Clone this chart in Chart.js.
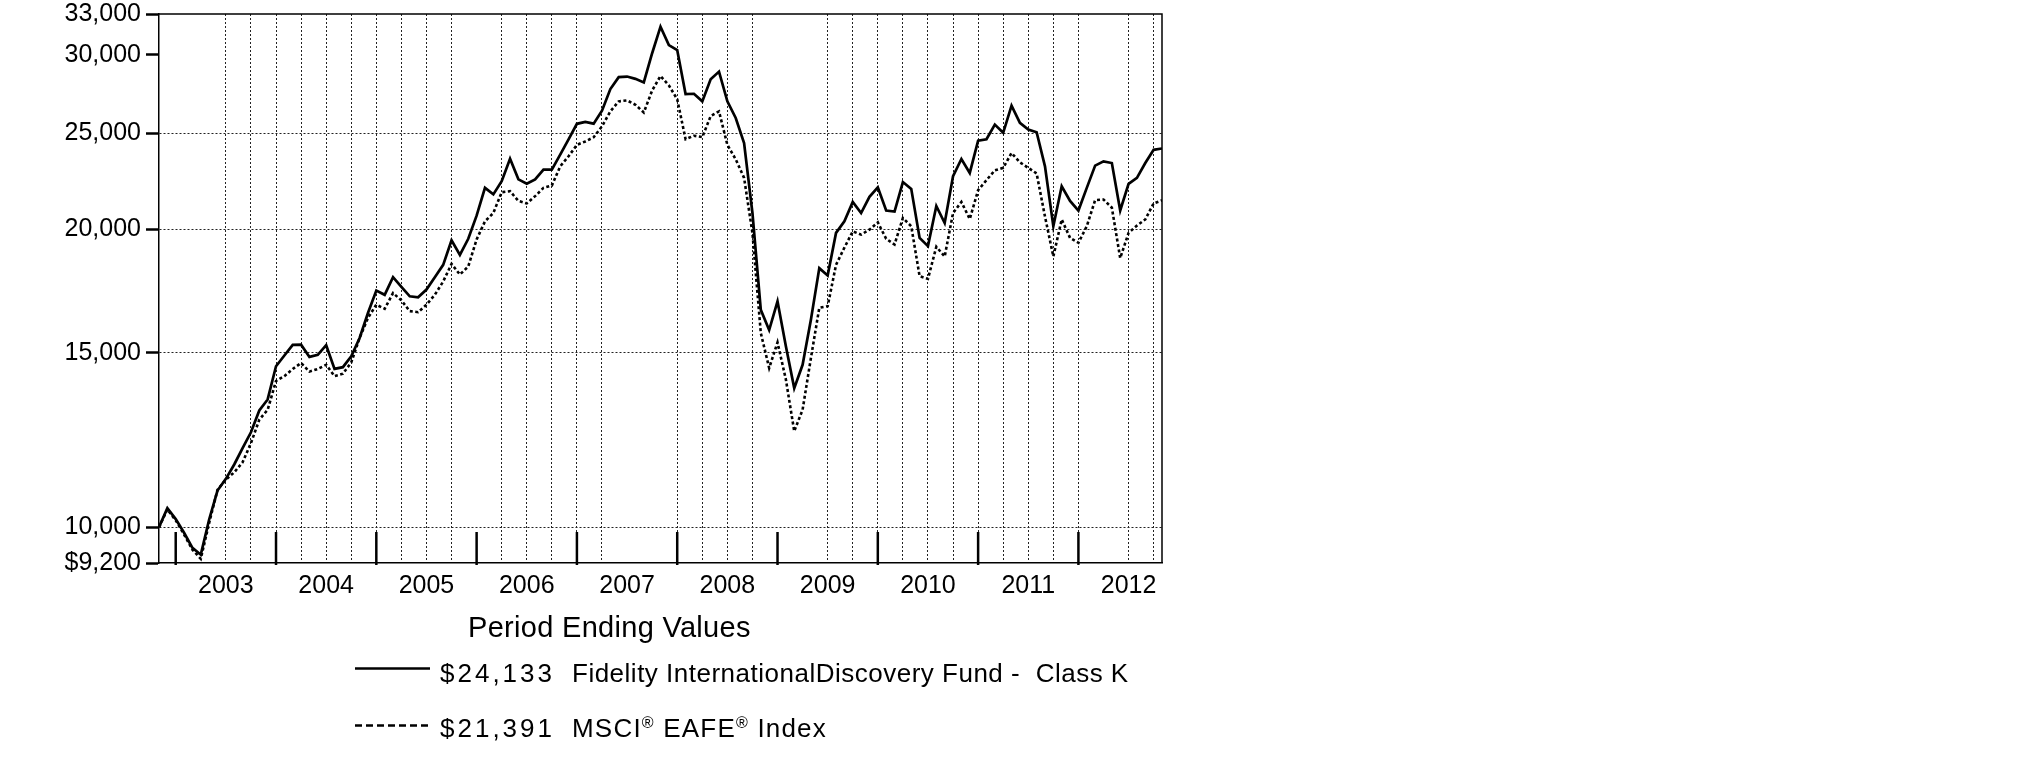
<!DOCTYPE html>
<html>
<head>
<meta charset="utf-8">
<title>Fidelity International Discovery Fund - Class K vs MSCI EAFE</title>
<script src="https://cdn.jsdelivr.net/npm/chart.js@4.4.1/dist/chart.umd.min.js"></script>
<style>
  html, body { margin: 0; padding: 0; background: #fff; }
  #wrap { position: relative; width: 2025px; height: 773px; font-family: "Liberation Sans", Arial, sans-serif; color: #000; }
  #chart { position: absolute; left: 0; top: 0; }
  .txt { position: absolute; white-space: pre; line-height: 1; }
  .title { font-size: 29px; letter-spacing: 0.3px; }
  .val { font-size: 26px; letter-spacing: 3px; }
  .name { font-size: 26px; letter-spacing: 0.5px; }
  .name.r1 { letter-spacing: 1.2px; }
  .name sup { font-size: 16px; vertical-align: 9px; line-height: 0; }
  #swatches { position: absolute; left: 0; top: 0; }
</style>
</head>
<body>
<div id="wrap">
  <canvas id="chart" width="2025" height="773"></canvas>
  <svg id="swatches" width="2025" height="773"></svg>
  <div id="legend"></div>
</div>
<script>
// month 0 = Oct 2002 ... month 120 = Oct 2012 (monthly period ends)
const fundValues = [
  10000, 10450, 10190, 9870, 9530, 9380, 10180, 10890, 11190, 11570,
  12020, 12470, 13120, 13460, 14540, 14910, 15280, 15290, 14860, 14930,
  15270, 14450, 14510, 14880, 15530, 16460, 17340, 17170, 17890, 17490,
  17110, 17070, 17380, 17890, 18410, 19490, 18840, 19560, 20640, 22020,
  21690, 22370, 23560, 22460, 22230, 22460, 22980, 22980, 23790, 24650,
  25560, 25670, 25570, 26350, 27710, 28490, 28530, 28380, 28140, 30120,
  32040, 30700, 30350, 27390, 27410, 26930, 28350, 28860, 26930, 25910,
  24440, 20770, 16580, 15820, 16910, 15230, 13820, 14590, 16210, 18270,
  17960, 19830, 20370, 21310, 20770, 21570, 22050, 20890, 20840, 22320,
  21970, 19600, 19230, 21110, 20290, 22630, 23550, 22800, 24580, 24660,
  25510, 25030, 26660, 25620, 25220, 25060, 23150, 20140, 22100, 21360,
  20890, 22020, 23190, 23420, 23330, 20890, 22230, 22540, 23330, 24060,
  24133
];
const indexValues = [
  10000, 10420, 10160, 9830, 9490, 9290, 10100, 10910, 11170, 11360,
  11630, 12160, 12840, 13140, 14050, 14210, 14450, 14650, 14360, 14450,
  14590, 14210, 14290, 14670, 15530, 16270, 16780, 16620, 17240, 16950,
  16530, 16490, 16780, 17170, 17710, 18450, 18000, 18340, 19530, 20370,
  20770, 21800, 21850, 21360, 21240, 21600, 22020, 22140, 23150, 23700,
  24340, 24530, 24770, 25410, 26310, 26930, 26990, 26720, 26240, 27620,
  28570, 27950, 27060, 24660, 24860, 24780, 26020, 26310, 24340, 23530,
  22540, 19830, 15710, 14480, 15370, 14100, 12500, 13140, 14830, 16660,
  16720, 18410, 19160, 19900, 19750, 19980, 20320, 19560, 19300, 20530,
  20140, 17930, 17820, 19200, 18770, 20770, 21310, 20480, 21900, 22420,
  22940, 23070, 23880, 23370, 23070, 22770, 20600, 18770, 20460, 19600,
  19380, 20140, 21400, 21430, 21030, 18700, 19830, 20170, 20460, 21240,
  21391
];
const seriesNames = [
  "Fidelity InternationalDiscovery Fund -  Class K",
  "MSCI<sup>®</sup> EAFE<sup>®</sup> Index"
];

const yTickValues = [9200, 10000, 15000, 20000, 25000, 30000, 33000];
const yTickLabels = ["$9,200", "10,000", "15,000", "20,000", "25,000", "30,000", "33,000"];
const yGridValues = [10000, 15000, 20000, 25000];

const yearLabels = ["2003", "2004", "2005", "2006", "2007", "2008", "2009", "2010", "2011", "2012"];
const yearLabelMonths = [8, 20, 32, 44, 56, 68, 80, 92, 104, 116];
const yearEndMonths = [2, 14, 26, 38, 50, 62, 74, 86, 98, 110];
// quarter ends that show no dotted grid line in the original
const hiddenGridMonths = [2, 5, 38, 56, 59, 74, 77, 113];

const quarterMonths = [];
for (let m = 2; m < fundValues.length; m += 3) quarterMonths.push(m);

const toPoints = (arr) => arr.map((v, i) => ({ x: i, y: v }));

const tickFont = { family: "'Liberation Sans', Arial, sans-serif", size: 25 };

// Frame + year separator ticks -------------------- { plugin }
const frameAndYears = {
  id: "frameAndYears",
  afterDraw(chart) {
    const { ctx, chartArea } = chart;
    const xs = chart.scales.x;
    ctx.save();
    ctx.strokeStyle = "#000";
    ctx.lineWidth = 1.5;
    ctx.beginPath();
    ctx.moveTo(chartArea.left, chartArea.top);
    ctx.lineTo(chartArea.right, chartArea.top);
    ctx.lineTo(chartArea.right, chartArea.bottom);
    ctx.stroke();
    ctx.lineWidth = 2.5;
    yearEndMonths.forEach((m) => {
      const x = xs.getPixelForValue(m);
      ctx.beginPath();
      ctx.moveTo(x, chartArea.bottom + 2);
      ctx.lineTo(x, chartArea.bottom - 31);
      ctx.stroke();
    });
    ctx.restore();
  },
};

new Chart(document.getElementById("chart"), {
  type: "line",
  data: {
    datasets: [
      {
        label: "Fund",
        data: toPoints(fundValues),
        borderColor: "#000",
        borderWidth: 2.7,
        pointRadius: 0,
        tension: 0,
      },
      {
        label: "Index",
        data: toPoints(indexValues),
        borderColor: "#000",
        borderWidth: 2.6,
        borderDash: [3, 2.5],
        pointRadius: 0,
        tension: 0,
      },
    ],
  },
  options: {
    responsive: false,
    animation: false,
    layout: { padding: { top: 14, right: 863, bottom: 170, left: 0 } },
    plugins: { legend: { display: false }, tooltip: { enabled: false } },
    scales: {
      x: {
        type: "linear",
        min: 0,
        max: fundValues.length - 1,
        afterBuildTicks: (axis) => {
          axis.ticks = quarterMonths.map((v) => ({ value: v }));
        },
        afterFit: (axis) => {
          axis.height = 40;
          axis.paddingLeft = 0;
          axis.paddingRight = 0;
        },
        ticks: {
          autoSkip: false,
          maxRotation: 0,
          padding: 8,
          color: "#000",
          font: tickFont,
          callback: (v) => {
            const i = yearLabelMonths.indexOf(v);
            return i >= 0 ? yearLabels[i] : "";
          },
        },
        grid: {
          drawTicks: false,
          lineWidth: 1,
          color: (c) => (c.tick && hiddenGridMonths.includes(c.tick.value) ? "rgba(0,0,0,0)" : "#222"),
        },
        border: { color: "#000", width: 1.5, dash: [2, 2] },
      },
      y: {
        type: "logarithmic",
        min: 9200,
        max: 33000,
        afterBuildTicks: (axis) => {
          axis.ticks = yTickValues.map((v) => ({ value: v }));
        },
        afterFit: (axis) => {
          axis.width = 159;
          axis.paddingTop = 0;
          axis.paddingBottom = 0;
        },
        ticks: {
          padding: 5,
          color: "#000",
          font: tickFont,
          callback: (v, i) => yTickLabels[i],
        },
        grid: {
          tickLength: 13,
          tickWidth: 2.5,
          tickColor: "#000",
          lineWidth: 1,
          color: (c) => (c.tick && yGridValues.includes(c.tick.value) ? "#222" : "rgba(0,0,0,0)"),
        },
        border: { color: "#000", width: 1.5, dash: [2, 2] },
      },
    },
  },
  plugins: [frameAndYears],
});

// Legend ------------------------------------ { Legend }
const legend = document.getElementById("legend");
const endValues = [fundValues[fundValues.length - 1], indexValues[indexValues.length - 1]];
legend.innerHTML = `<div class="txt title" style="left:468px;top:613px">Period Ending Values</div>`;
const rowTops = [660, 715];
endValues.forEach((v, i) => {
  legend.innerHTML += `
  <div class="txt val" style="left:440px;top:${rowTops[i]}px">$${v.toLocaleString("en-US")}</div>
  <div class="txt name r${i}" style="left:572px;top:${rowTops[i]}px">${seriesNames[i]}</div>`;
});
document.getElementById("swatches").innerHTML = `
  <line x1="355" y1="668.5" x2="430" y2="668.5" stroke="#000" stroke-width="2.6"/>
  <line x1="355" y1="725.5" x2="430" y2="725.5" stroke="#000" stroke-width="2.6" stroke-dasharray="7 4"/>`;
</script>
</body>
</html>
